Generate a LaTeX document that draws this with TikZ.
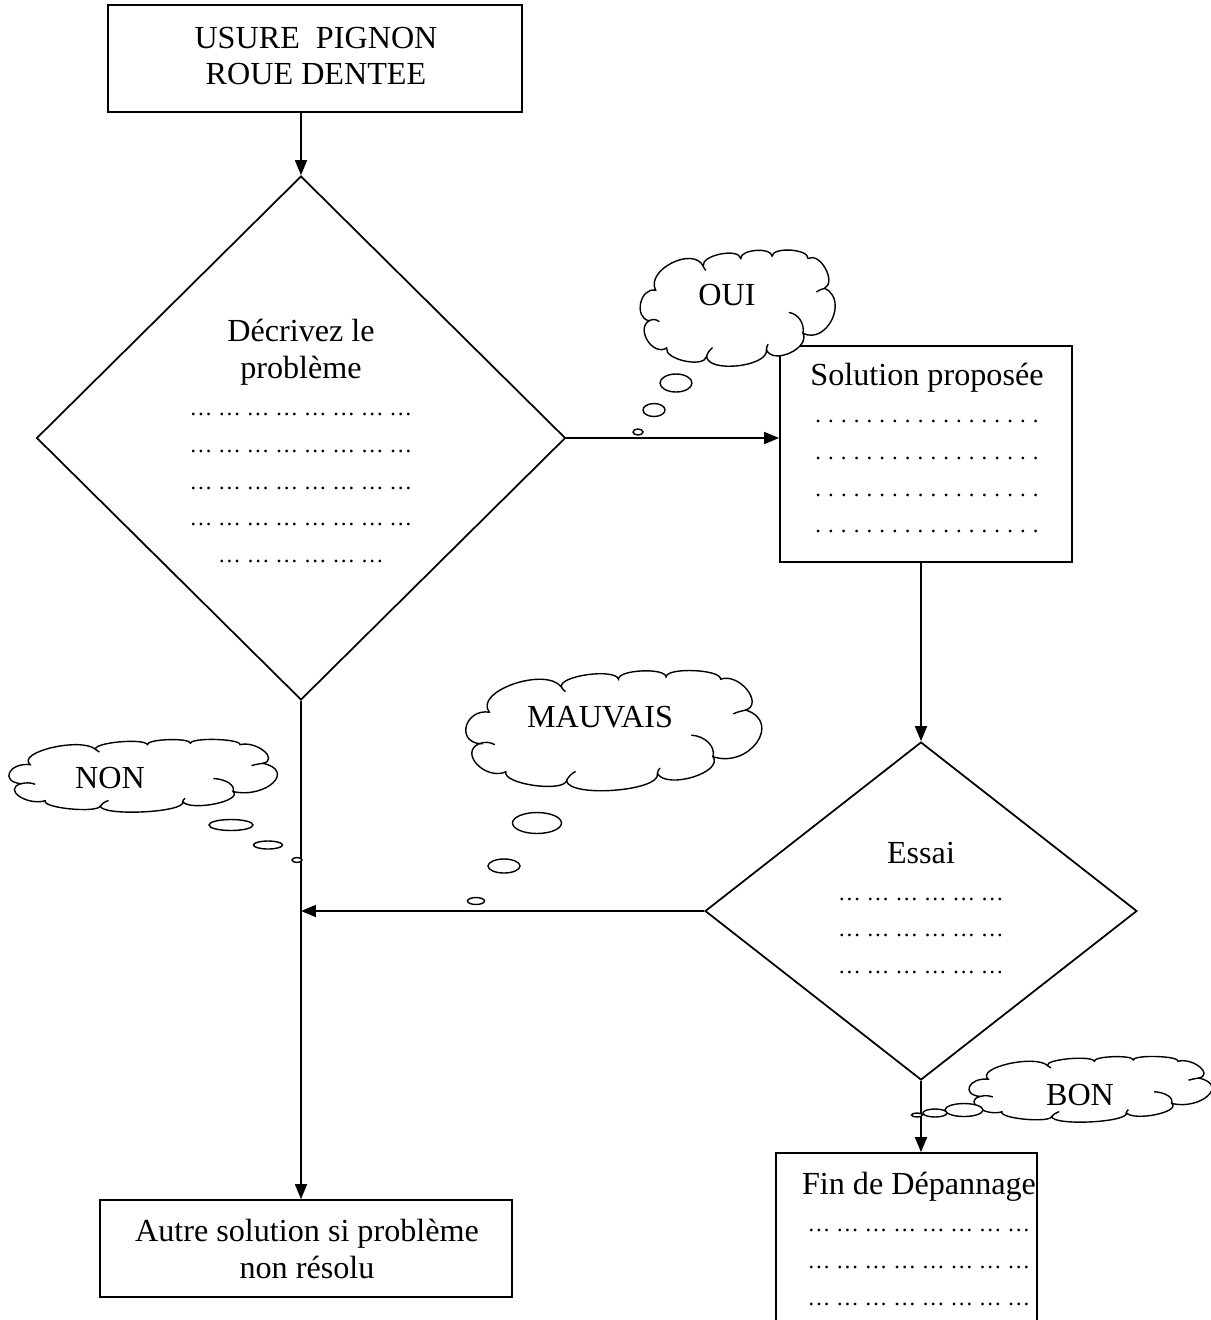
\documentclass[tikz,border=0pt]{standalone}
\usepackage{fontspec}
\setmainfont{Liberation Serif}
\usetikzlibrary{shapes.geometric,arrows.meta}
\newcommand\dl[1]{{\fontsize{13pt}{21.05pt}\selectfont #1}}
\newcommand\eightdots{\dl{… … … … … … … …}}
\newcommand\sixdots{\dl{… … … … … …}}
\newcommand\soldots{\dl{\foreach\i in {1,...,17}{.\kern4.03pt}.}}
\begin{document}
\begin{tikzpicture}[x=0.02cm,y=-0.02cm,
  line width=1pt,
  box/.style={draw, rectangle, inner sep=0pt},
  dec/.style={draw, diamond, inner sep=0pt},
  txt/.style={align=center, inner sep=0pt, font=\fontsize{18.3pt}{21.05pt}\selectfont},
  arr/.style={-{Triangle[length=0.3cm,width=0.24cm]}},
  cloudline/.style={line width=0.8pt},
  bub/.style={ellipse, draw, fill=white, line width=0.8pt, inner sep=0pt},
  cloudpic/.pic={
    \draw[cloudline, fill=white] (-263,37)
      .. controls (-309.6,26.9) and (-289.6,-65.1) .. (-243,-55)
      .. controls (-274.1,-116.0) and (-131.1,-189.0) .. (-100,-128)
      .. controls (-106.7,-161.1) and (6.3,-184.1) .. (13,-151)
      .. controls (10.9,-178.6) and (104.9,-185.6) .. (107,-158)
      .. controls (108.9,-186.8) and (216.9,-179.8) .. (215,-151)
      .. controls (251,-171) and (301,-81) .. (265,-61)
      .. controls (337.5,-26.3) and (272.5,109.7) .. (200,75)
      .. controls (220.7,120.5) and (110.7,170.5) .. (90,125)
      .. controls (95.6,175.4) and (-84.4,195.4) .. (-90,145)
      .. controls (-97.6,180.2) and (-217.6,154.2) .. (-210,119)
      .. controls (-250.5,145.1) and (-303.5,63.1) .. cycle;
    \draw[cloudline] (-263,37) .. controls (-250,30) and (-240,33) .. (-232,40);
    \draw[cloudline] (-100,-128) .. controls (-98,-122) and (-95,-118) .. (-92,-115);
    \draw[cloudline] (157,12) .. controls (185,15) and (205,45) .. (200,75);
    \draw[cloudline] (90,125) .. controls (90,118) and (92,112) .. (95,108);
    \draw[cloudline] (-90,145) .. controls (-86,132) and (-80,124) .. (-72,118);
    \draw[cloudline] (265,-61) .. controls (255,-58) and (247,-55) .. (240,-50);
  }]
\clip (0,0) rectangle (1211,1320);
% shapes
\node[box, minimum width=8.28cm, minimum height=2.14cm] (top) at (315,58.5) {};
\node[dec, minimum width=10.58cm, minimum height=10.48cm] (d1) at (301,438) {};
\node[box, minimum width=5.84cm, minimum height=4.32cm] (sol) at (926,454) {};
\node[dec, minimum width=8.64cm, minimum height=6.76cm] (d2) at (921,911) {};
\node[box, minimum width=8.24cm, minimum height=1.94cm] (autre) at (306,1248.5) {};
\node[box, minimum width=5.22cm, minimum height=3.84cm] (fin) at (906.5,1249) {};
% texts
\node[txt] (ttop) at (316,56) {USURE\ \ PIGNON\\ROUE DENTEE};
\node[txt] (td1) at (301,441) {Décrivez le\\problème\\\eightdots\\\eightdots\\\eightdots\\\eightdots\\\sixdots};
\node[txt] (tsol) at (927,448) {Solution proposée\\\soldots\\\soldots\\\soldots\\\soldots};
\node[txt] (td2) at (921,908) {Essai\\\sixdots\\\sixdots\\\sixdots};
\node[txt] (tautre) at (307,1249) {Autre solution si problème\\non résolu};
\node[txt] (tfin) at (919,1239) {Fin de Dépannage\\\eightdots\\\eightdots\\\eightdots};
% connectors
\draw[arr] (top.south -| d1.north) -- (d1.north);
\draw[arr] (d1.east) -- (sol.west |- d1.east);
\draw[arr] (sol.south -| d2.north) -- (d2.north);
\draw[arr] (d1.south) -- (d1.south |- autre.north);
\draw[arr] (d2.west) -- (d1.south |- d2.west);
\draw[arr] (d2.south) -- (d2.south |- fin.north);
% clouds
\pic[xscale=0.3328, yscale=0.3314] (coui) at (736.5,308.5) {cloudpic};
\node[txt] (toui) at (727,295) {OUI};
\node[bub, minimum width=0.64cm, minimum height=0.36cm] (ob1) at (676,383) {};
\node[bub, minimum width=0.44cm, minimum height=0.26cm] (ob2) at (654,410) {};
\node[bub, minimum width=0.2cm, minimum height=0.12cm] (ob3) at (638,432) {};
\pic[xscale=0.5052, yscale=0.3429] (cmau) at (612,731) {cloudpic};
\node[txt] (tmau) at (600,717) {MAUVAIS};
\node[bub, minimum width=0.98cm, minimum height=0.42cm] (mb1) at (537,823) {};
\node[bub, minimum width=0.64cm, minimum height=0.28cm] (mb2) at (504,866) {};
\node[bub, minimum width=0.34cm, minimum height=0.14cm] (mb3) at (476,901) {};
\pic[xscale=0.4582, yscale=0.2075] (cnon) at (141.5,776) {cloudpic};
\node[txt] (tnon) at (110,778) {NON};
\node[bub, minimum width=0.88cm, minimum height=0.22cm] (nb1) at (231,825) {};
\node[bub, minimum width=0.58cm, minimum height=0.16cm] (nb2) at (268,845) {};
\node[bub, minimum width=0.2cm, minimum height=0.1cm] (nb3) at (297,860) {};
\pic[xscale=0.4146, yscale=0.1873] (cbon) at (1089,1089.5) {cloudpic};
\node[txt] (tbon) at (1080,1095) {BON};
\node[bub, minimum width=0.76cm, minimum height=0.26cm] (bb1) at (964,1110) {};
\node[bub, minimum width=0.48cm, minimum height=0.16cm] (bb2) at (935,1113) {};
\node[bub, minimum width=0.22cm, minimum height=0.08cm] (bb3) at (917,1115) {};
\end{tikzpicture}
\end{document}
